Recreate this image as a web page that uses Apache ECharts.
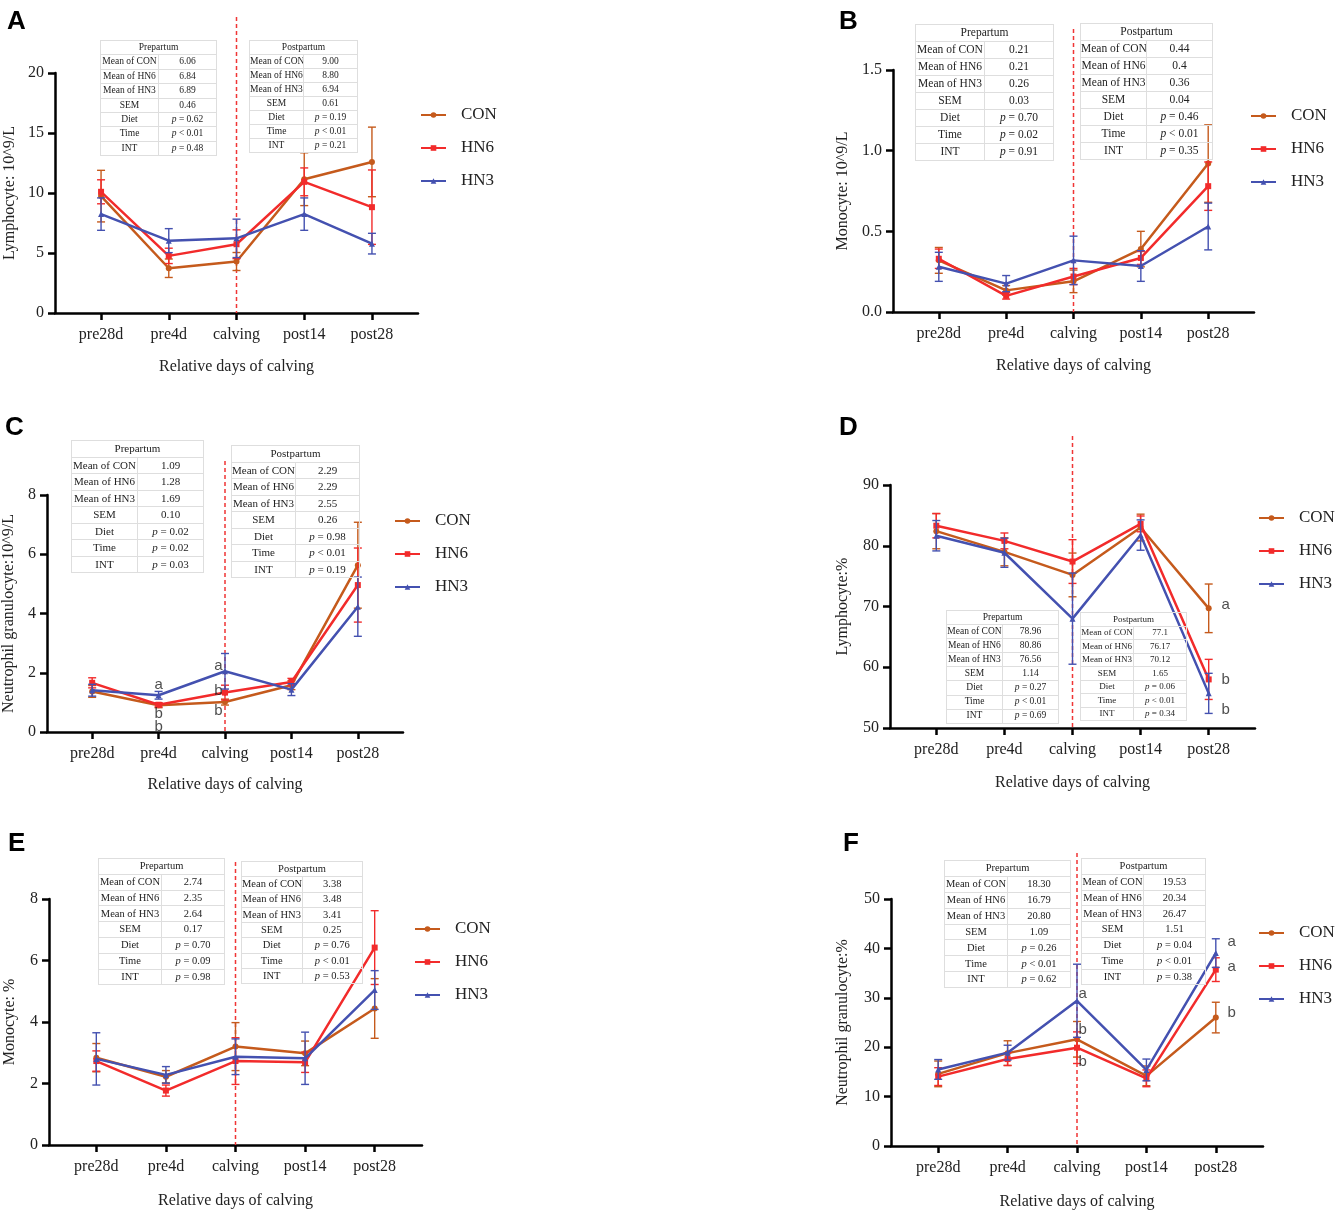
<!DOCTYPE html>
<html lang="en">
<head>
<meta charset="UTF-8">
<title>Blood cells around calving</title>
<style>
    body { margin: 0; background: #fff; }
    #wrap { position: relative; width: 1335px; height: 1212px; }
    #main { position: absolute; left: 0; top: 0; width: 1335px; height: 1212px; }
    table.st { position: absolute; border-collapse: collapse; table-layout: fixed;
               font-family: 'Liberation Serif', serif; color: #222; }
    table.st td { border: 1px solid #dedede; text-align: center; padding: 0; line-height: 1;
                  white-space: nowrap; overflow: hidden; }
</style>
<script src="https://cdn.jsdelivr.net/npm/echarts@6/dist/echarts.min.js"></script>
</head>
<body>
<div id="wrap"><div id="main"></div></div>
<script>
    var days = ['pre28d', 'pre4d', 'calving', 'post14', 'post28'];
    var groups = ['CON', 'HN6', 'HN3'];
    var rowLabels = ['Mean of CON', 'Mean of HN6', 'Mean of HN3', 'SEM', 'Diet', 'Time', 'INT'];

    // A  lymphocyte 10^9/L  (mean, SEM)
    var aCon = [9.74, 3.73, 4.29, 11.15, 12.59],  aConSe = [2.15, 0.77, 0.75, 2.2, 2.9];
    var aHn6 = [10.1, 4.76, 5.73, 10.93, 8.82],   aHn6Se = [1.0, 0.64, 1.2, 1.16, 3.1];
    var aHn3 = [8.24, 6.03, 6.22, 8.24, 5.78],    aHn3Se = [1.35, 1.0, 1.6, 1.35, 0.86];
    var aPre = ['6.06', '6.84', '6.89', '0.46', '= 0.62', '< 0.01', '= 0.48'];
    var aPost = ['9.00', '8.80', '6.94', '0.61', '= 0.19', '< 0.01', '= 0.21'];

    // B  monocyte 10^9/L
    var bCon = [0.32, 0.134, 0.19, 0.39, 0.92],   bConSe = [0.08, 0.03, 0.07, 0.11, 0.24];
    var bHn6 = [0.33, 0.10, 0.22, 0.335, 0.78],   bHn6Se = [0.06, 0.02, 0.05, 0.04, 0.15];
    var bHn3 = [0.28, 0.176, 0.32, 0.285, 0.53],  bHn3Se = [0.09, 0.05, 0.15, 0.095, 0.145];
    var bPre = ['0.21', '0.21', '0.26', '0.03', '= 0.70', '= 0.02', '= 0.91'];
    var bPost = ['0.44', '0.4', '0.36', '0.04', '= 0.46', '< 0.01', '= 0.35'];

    // C  neutrophil granulocyte 10^9/L
    var cCon = [1.37, 0.90, 1.01, 1.58, 5.63],    cConSe = [0.2, 0.08, 0.1, 0.15, 1.45];
    var cHn6 = [1.66, 0.92, 1.33, 1.69, 4.96],    cHn6Se = [0.17, 0.07, 0.25, 0.12, 1.25];
    var cHn3 = [1.41, 1.24, 2.05, 1.43, 4.23],    cHn3Se = [0.2, 0.13, 0.6, 0.2, 1.0];
    var cPre = ['1.09', '1.28', '1.69', '0.10', '= 0.02', '= 0.02', '= 0.03'];
    var cPost = ['2.29', '2.29', '2.55', '0.26', '= 0.98', '< 0.01', '= 0.19'];
    var cLetters = [[1, 1.58, 'a'], [1, 0.62, 'b'], [1, 0.17, 'b'],
                    [1.9, 2.22, 'a'], [1.9, 1.39, 'b'], [1.9, 0.70, 'b']];

    // D  lymphocyte %
    var dCon = [82.4, 79.0, 75.2, 83.0, 69.7],    dConSe = [2.9, 2.3, 3.6, 2.2, 4.0];
    var dHn6 = [83.3, 80.8, 77.4, 83.6, 58.0],    dHn6Se = [2.0, 1.3, 3.6, 1.3, 3.3];
    var dHn3 = [81.65, 78.85, 68.0, 81.76, 55.7], dHn3Se = [2.5, 2.4, 7.5, 2.5, 3.3];
    var dPre = ['78.96', '80.86', '76.56', '1.14', '= 0.27', '< 0.01', '= 0.69'];
    var dPost = ['77.1', '76.17', '70.12', '1.65', '= 0.06', '< 0.01', '= 0.34'];
    var dLetters = [[4.25, 70.3, 'a'], [4.25, 57.9, 'b'], [4.25, 53.0, 'b']];

    // E  monocyte %
    var eCon = [2.84, 2.22, 3.2, 2.98, 4.44],     eConSe = [0.46, 0.2, 0.78, 0.4, 0.97];
    var eHn6 = [2.73, 1.77, 2.73, 2.69, 6.42],    eHn6Se = [0.33, 0.18, 0.76, 0.33, 1.2];
    var eHn3 = [2.8, 2.28, 2.87, 2.82, 5.04],     eHn3Se = [0.85, 0.27, 0.58, 0.85, 0.63];
    var ePre = ['2.74', '2.35', '2.64', '0.17', '= 0.70', '= 0.09', '= 0.98'];
    var ePost = ['3.38', '3.48', '3.41', '0.25', '= 0.76', '< 0.01', '= 0.53'];

    // F  neutrophil granulocyte %
    var fCon = [14.6, 18.8, 21.6, 14.2, 26.0],    fConSe = [2.6, 2.5, 3.6, 2.0, 3.1];
    var fHn6 = [14.05, 17.6, 19.9, 13.7, 35.7],   fHn6Se = [1.8, 1.3, 3.2, 1.7, 2.4];
    var fHn3 = [15.5, 18.9, 29.4, 15.4, 39.05],   fHn3Se = [2.0, 1.5, 7.4, 2.2, 2.9];
    var fPre = ['18.30', '16.79', '20.80', '1.09', '= 0.26', '< 0.01', '= 0.62'];
    var fPost = ['19.53', '20.34', '26.47', '1.51', '= 0.04', '< 0.01', '= 0.38'];
    var fLetters = [[2.08, 30.7, 'a'], [2.08, 23.5, 'b'], [2.08, 17.1, 'b'],
                    [4.23, 41.4, 'a'], [4.23, 36.35, 'a'], [4.23, 26.9, 'b']];

    var colors = ['#C55A1C', '#F22B2B', '#4451B0'];
    var symbols = ['circle', 'rect', 'triangle'];
    var serif = 'Liberation Serif';

    var panels = [
        {tag: 'A', tagPos: [2, 4], grid: [55, 73, 363, 240], y: [0, 20, 5], dec: 0,
         yName: 'Lymphocyte: 10^9/L', yGap: 37, xGap: 46, legend: [420, 106], vTop: 17,
         means: [aCon, aHn6, aHn3], ses: [aConSe, aHn6Se, aHn3Se],
         pre: aPre, post: aPost, preBox: [100, 40, 117, 115, 9.5], postBox: [249, 40, 109, 112, 9.5]},
        {tag: 'B', tagPos: [834, 4], grid: [893, 70, 361, 242], y: [0, 1.5, 0.5], dec: 1,
         yName: 'Monocyte: 10^9/L', yGap: 42, xGap: 46, legend: [1250, 107], vTop: 29,
         means: [bCon, bHn6, bHn3], ses: [bConSe, bHn6Se, bHn3Se],
         pre: bPre, post: bPost, preBox: [915, 24, 139, 136, 11.5], postBox: [1080, 23, 133, 136, 11.5]},
        {tag: 'C', tagPos: [0, 410], grid: [46, 495, 357, 237], y: [0, 8, 2], dec: 0,
         yName: 'Neutrophil granulocyte:10^9/L', yGap: 30, xGap: 45, legend: [394, 512], vTop: 461,
         means: [cCon, cHn6, cHn3], ses: [cConSe, cHn6Se, cHn3Se], letters: cLetters,
         pre: cPre, post: cPost, preBox: [71, 440, 133, 132, 11], postBox: [231, 445, 129, 132, 11]},
        {tag: 'D', tagPos: [834, 410], grid: [890, 485, 365, 243], y: [50, 90, 10], dec: 0,
         yName: 'Lymphocyte:%', yGap: 39, xGap: 47, legend: [1258, 509], vTop: 436,
         means: [dCon, dHn6, dHn3], ses: [dConSe, dHn6Se, dHn3Se], letters: dLetters,
         pre: dPre, post: dPost, preBox: [946, 610, 113, 113, 9.5], postBox: [1080, 612, 107, 108, 9]},
        {tag: 'E', tagPos: [3, 826], grid: [49, 899, 373, 246], y: [0, 8, 2], dec: 0,
         yName: 'Monocyte: %', yGap: 31, xGap: 48, legend: [414, 920], vTop: 862,
         means: [eCon, eHn6, eHn3], ses: [eConSe, eHn6Se, eHn3Se],
         pre: ePre, post: ePost, preBox: [98, 858, 127, 126, 10.5], postBox: [241, 861, 122, 122, 10.5]},
        {tag: 'F', tagPos: [838, 826], grid: [891, 899, 372, 247], y: [0, 50, 10], dec: 0,
         yName: 'Neutrophil granulocyte:%', yGap: 40, xGap: 48, legend: [1258, 924], vTop: 853,
         means: [fCon, fHn6, fHn3], ses: [fConSe, fHn6Se, fHn3Se], letters: fLetters,
         pre: fPre, post: fPost, preBox: [944, 860, 127, 127, 10.5], postBox: [1081, 858, 125, 126, 10.5]}
    ];

    function errorBars(color) {
        return function (params, api) {
            var x = api.value(0), m = api.value(1), e = api.value(2);
            var hi = api.coord([x, m + e]), lo = api.coord([x, m - e]);
            var s = {stroke: color, lineWidth: 1.4};
            return {type: 'group', children: [
                {type: 'line', shape: {x1: hi[0], y1: hi[1], x2: lo[0], y2: lo[1]}, style: s},
                {type: 'line', shape: {x1: hi[0] - 4, y1: hi[1], x2: hi[0] + 4, y2: hi[1]}, style: s},
                {type: 'line', shape: {x1: lo[0] - 4, y1: lo[1], x2: lo[0] + 4, y2: lo[1]}, style: s}
            ]};
        };
    }

    var option = {
        animation: false,
        backgroundColor: '#fff',
        title: [], grid: [], xAxis: [], yAxis: [], legend: [], series: []
    };

    panels.forEach(function (p, i) {
        option.title.push({text: p.tag, left: p.tagPos[0], top: p.tagPos[1],
            textStyle: {fontFamily: 'Liberation Sans', fontWeight: 'bold', fontSize: 26, color: '#000'}});
        option.grid.push({left: p.grid[0], top: p.grid[1], width: p.grid[2], height: p.grid[3]});
        option.xAxis.push({
            type: 'value', gridIndex: i, min: -0.68, max: 4.68,
            name: 'Relative days of calving', nameLocation: 'middle', nameGap: p.xGap,
            nameTextStyle: {fontFamily: serif, fontSize: 16, color: '#222'},
            splitLine: {show: false},
            axisLine: {onZero: false, lineStyle: {color: '#000', width: 2.5}},
            axisTick: {length: 7, customValues: [0, 1, 2, 3, 4], lineStyle: {color: '#000', width: 2.5}},
            axisLabel: {customValues: [0, 1, 2, 3, 4], margin: 14,
                formatter: function (v) { return days[Math.round(v)]; },
                fontFamily: serif, fontSize: 16, color: '#222'}
        });
        option.yAxis.push({
            type: 'value', gridIndex: i, min: p.y[0], max: p.y[1], interval: p.y[2],
            name: p.yName, nameLocation: 'middle', nameGap: p.yGap,
            nameTextStyle: {fontFamily: serif, fontSize: 16, color: '#222'},
            splitLine: {show: false},
            axisLine: {show: true, onZero: false, lineStyle: {color: '#000', width: 2.5}},
            axisTick: {show: true, length: 7, lineStyle: {color: '#000', width: 2.5}},
            axisLabel: {margin: 11, fontFamily: serif, fontSize: 16, color: '#222',
                formatter: function (v) { return v.toFixed(p.dec); }}
        });
        option.legend.push({
            data: groups, orient: 'vertical', left: p.legend[0], top: p.legend[1], padding: 0,
            itemWidth: 25, itemHeight: 7, itemGap: 15, itemStyle: {borderWidth: 0},
            textStyle: {fontFamily: serif, fontSize: 17, color: '#222', padding: [0, 0, 0, 10], lineHeight: 18}
        });
        groups.forEach(function (g, k) {
            option.series.push({
                name: g, type: 'line', xAxisIndex: i, yAxisIndex: i,
                data: p.means[k].map(function (v, j) { return [j, v]; }),
                symbol: symbols[k], symbolSize: 6,
                lineStyle: {color: colors[k], width: 2.5},
                itemStyle: {color: colors[k]}, z: 3 + k
            });
            option.series.push({
                name: g + ' SEM ' + p.tag, type: 'custom', xAxisIndex: i, yAxisIndex: i,
                renderItem: errorBars(colors[k]), encode: {x: 0, y: 1}, z: 3 + k,
                data: p.means[k].map(function (v, j) { return [j, v, p.ses[k][j]]; })
            });
        });
        if (p.letters) {
            option.series.push({
                name: 'letters ' + p.tag, type: 'scatter', xAxisIndex: i, yAxisIndex: i,
                symbolSize: 0, data: p.letters, z: 10,
                label: {show: true, position: 'inside', fontFamily: 'Liberation Sans', fontSize: 15, color: '#222',
                    formatter: function (d) { return d.value[2]; }}
            });
        }
    });

    var chart = echarts.init(document.getElementById('main'));
    chart.setOption(option);

    // dashed calving line, reaching above the plot like in the original
    var graphics = [];
    panels.forEach(function (p, i) {
        var bottom = chart.convertToPixel({gridIndex: i}, [2, p.y[0]]);
        graphics.push({type: 'line', z: 2, silent: true,
            shape: {x1: bottom[0], y1: p.vTop, x2: bottom[0], y2: bottom[1]},
            style: {stroke: '#F03535', lineWidth: 1.5, lineDash: [4, 3]}});
    });
    chart.setOption({graphic: graphics});

    // summary tables
    function pval(v) {
        return (v.charAt(0) === '=' || v.charAt(0) === '<') ? '<i>p</i> ' + v : v;
    }
    function addTable(box, title, vals) {
        var t = document.createElement('table');
        t.className = 'st';
        t.style.left = box[0] + 'px';
        t.style.top = box[1] + 'px';
        t.style.width = box[2] + 'px';
        t.style.fontSize = box[4] + 'px';
        var h = (box[3] / 8 - 1).toFixed(1);
        var html = '<tr><td colspan="2" style="height:' + h + 'px">' + title + '</td></tr>';
        for (var r = 0; r < rowLabels.length; r++) {
            html += '<tr><td style="width:56%;height:' + h + 'px">' + rowLabels[r] + '</td><td>' + pval(vals[r]) + '</td></tr>';
        }
        t.innerHTML = html;
        document.getElementById('wrap').appendChild(t);
    }
    panels.forEach(function (p) {
        addTable(p.preBox, 'Prepartum', p.pre);
        addTable(p.postBox, 'Postpartum', p.post);
    });
</script>
</body>
</html>
